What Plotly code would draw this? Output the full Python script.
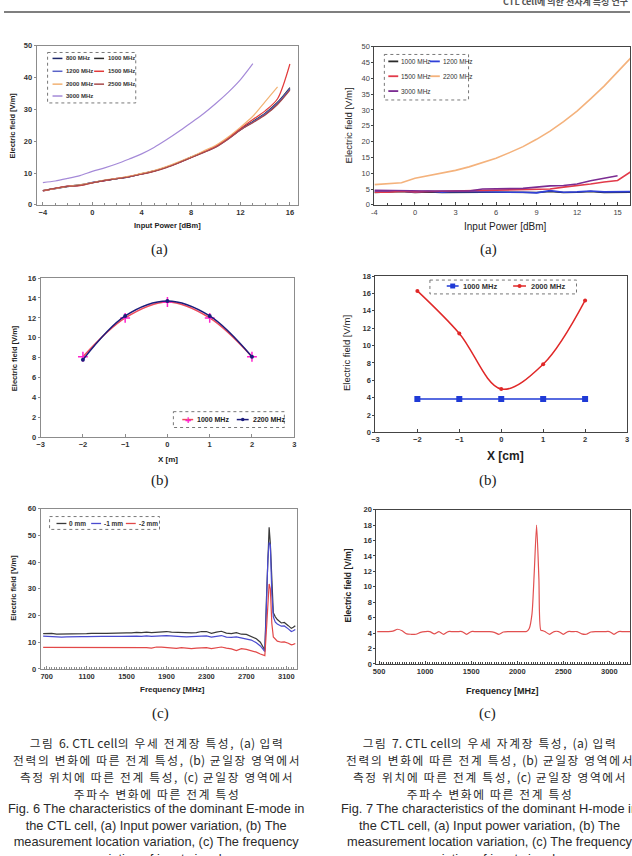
import re
import plotly.graph_objects as go

W, H = 632, 856

# ---------------- Fig.6 (a): E-mode, input power variation ----------------
power_e = [-4, -3, -2, -1, 0, 1, 2, 3, 4, 5, 6, 7, 8, 9, 10, 11, 12, 13, 14, 15, 16]
ea_800 = [4.4, 5.1, 5.7, 6.2, 7.0, 7.6, 8.2, 8.8, 9.7, 10.6, 11.8, 13.3, 14.9, 16.5, 18.3, 20.8, 23.6, 26.0, 28.4, 31.7, 36.3]
ea_1000 = [4.5, 5.2, 5.8, 6.3, 7.0, 7.7, 8.2, 8.9, 9.8, 10.7, 11.9, 13.3, 15.0, 16.6, 18.3, 20.9, 23.8, 26.2, 28.8, 32.2, 36.8]
ea_1200 = [4.5, 5.1, 5.9, 6.2, 7.1, 7.6, 8.3, 8.8, 9.7, 10.6, 11.8, 13.2, 14.9, 16.5, 18.2, 20.7, 23.6, 26.0, 28.6, 32.0, 36.5]
ea_1500 = [4.4, 5.2, 5.9, 6.0, 6.9, 7.6, 8.3, 8.9, 9.7, 10.6, 11.8, 13.2, 14.9, 16.6, 18.4, 21.0, 24.0, 26.8, 29.5, 33.3, 44.2]
ea_2000 = [4.5, 5.1, 5.8, 6.3, 7.0, 7.8, 8.3, 9.0, 9.9, 10.8, 12.0, 13.5, 15.1, 16.9, 18.7, 21.3, 24.4, 27.8, 32.4, 37.0]
ea_2500 = [4.5, 5.2, 5.8, 6.1, 6.9, 7.7, 8.2, 8.8, 9.6, 10.5, 11.7, 13.2, 14.8, 16.4, 18.1, 20.6, 23.5, 25.8, 28.2, 31.5, 36.0]
ea_3000 = [7.0, 7.5, 8.3, 9.2, 10.5, 11.6, 12.9, 14.4, 16.0, 18.0, 20.4, 23.0, 25.8, 28.6, 31.8, 35.3, 39.3, 44.3]
ea_names = ["800 MHz", "1000 MHz", "1200 MHz", "1500 MHz", "2000 MHz", "2500 MHz", "3000 MHz"]
ea_ticks = [-4, 0, 4, 8, 12, 16]

# ---------------- Fig.7 (a): H-mode, input power variation ----------------
power_h = [-4, -2, -1, 0, 1, 2, 3, 4, 5, 6, 7, 8, 9, 10, 11, 12, 13, 14, 15, 16]
ha_1000 = [3.9, 4.0, 4.2, 3.9, 4.1, 3.9, 4.0, 3.9, 4.0, 4.0, 3.9, 4.0, 3.9, 4.2, 3.9, 4.0, 4.2, 3.9, 4.0, 4.0]
ha_1200 = [4.3, 4.2, 4.4, 4.0, 4.3, 4.0, 4.2, 4.1, 4.0, 4.1, 4.0, 4.0, 3.8, 4.5, 4.0, 4.1, 4.4, 4.1, 4.2, 4.2]
ha_1500 = [4.0, 4.0, 4.3, 4.1, 4.2, 4.3, 4.3, 4.4, 4.6, 4.6, 4.8, 4.9, 5.1, 5.0, 5.6, 6.0, 6.6, 7.2, 7.7, 10.5]
ha_2200 = [6.4, 6.6, 7.0, 8.4, 9.2, 10.0, 10.9, 12.0, 13.3, 14.7, 16.5, 18.4, 20.7, 23.3, 26.3, 29.6, 33.5, 37.5, 42.0, 46.5]
ha_3000 = [4.6, 4.5, 4.5, 4.3, 4.4, 4.4, 4.5, 4.4, 5.0, 5.1, 5.0, 5.2, 5.6, 6.0, 6.1, 6.6, 7.6, 8.4, 9.2]
ha_names = ["1000 MHz", "1200 MHz", "1500 MHz", "2200 MHz", "3000 MHz"]
ha_ticks = [-4, 0, 3, 6, 9, 12, 15]

# ---------------- Fig.6 (b): E-mode, location ----------------
x_m = [-2, -1, 0, 1, 2]
eb_1000 = [8.1, 12.0, 13.6, 12.0, 8.1]
eb_2200 = [7.8, 12.2, 13.7, 12.2, 8.1]
eb_names = ["1000 MHz", "2200 MHz"]

# ---------------- Fig.7 (b): H-mode, location ----------------
x_cm = [-2, -1, 0, 1, 2]
hb_1000 = [3.85, 3.85, 3.85, 3.85, 3.85]
hb_2000 = [16.3, 11.4, 5.0, 7.85, 15.2]
hb_names = ["1000 MHz", "2000 MHz"]

# ---------------- Fig.6 (c): E-mode, frequency ----------------
freq_e = [665, 700, 750, 800, 850, 900, 950, 1000, 1050, 1100, 1150, 1200, 1250, 1300, 1350,
          1400, 1450, 1500, 1550, 1600, 1650, 1700, 1750, 1800, 1850, 1900, 1950, 2000, 2050,
          2100, 2150, 2200, 2250, 2300, 2350, 2400, 2450, 2500, 2550, 2600, 2650, 2700, 2750,
          2800, 2840, 2870, 2885, 2900, 2915, 2928, 2940, 2955, 2970, 2990, 3010, 3050, 3080,
          3120, 3150, 3170, 3190]
ec_0mm = [13.2, 13.2, 13.3, 13.0, 13.0, 13.2, 13.2, 13.1, 13.2, 13.2, 13.3, 13.2, 13.3, 13.3, 13.4,
          13.4, 13.4, 13.5, 13.5, 13.7, 13.6, 13.8, 13.6, 13.8, 13.8, 14.0, 13.8, 13.7, 13.6,
          13.4, 13.5, 13.6, 14.0, 14.0, 13.3, 13.8, 14.1, 13.4, 13.2, 13.6, 13.0, 12.9, 12.2,
          11.3, 10.0, 8.2, 7.0, 25.0, 45.0, 53.0, 47.0, 30.0, 21.0, 19.5, 18.5, 17.2, 17.4,
          16.2, 15.2, 15.6, 16.2]
ec_1mm = [12.3, 12.2, 12.0, 11.9, 11.9, 12.0, 12.1, 12.0, 12.1, 12.1, 12.2, 12.1, 12.2, 12.2, 12.3,
          12.2, 12.2, 12.3, 12.2, 12.3, 12.2, 12.4, 12.2, 12.4, 12.4, 12.5, 12.3, 12.2, 12.1,
          12.0, 12.1, 12.2, 12.4, 12.4, 11.9, 12.3, 12.5, 11.9, 11.8, 12.0, 11.6, 11.4, 10.8,
          9.8, 8.6, 7.2, 6.5, 22.0, 41.0, 47.3, 46.5, 28.0, 19.5, 17.5, 16.8, 16.0, 16.1,
          15.0, 14.0, 14.3, 14.8]
ec_2mm = [8.1, 8.1, 8.0, 8.0, 8.1, 8.1, 8.1, 8.0, 8.1, 8.2, 8.1, 8.1, 8.2, 8.1, 8.1,
          8.2, 8.1, 8.1, 8.1, 8.0, 8.1, 8.0, 7.8, 8.2, 8.2, 8.1, 8.0, 7.7, 8.0,
          7.7, 7.6, 7.8, 7.9, 8.0, 7.6, 8.0, 8.2, 7.8, 7.5, 6.9, 7.6, 7.3, 6.8,
          6.3, 5.6, 5.2, 5.0, 14.0, 27.0, 31.8, 30.0, 17.0, 12.0, 11.0, 10.4, 10.0, 10.1,
          9.6, 9.0, 9.2, 9.5]
ec_names = ["0 mm", "-1 mm", "-2 mm"]
ec_ticks = [700, 1100, 1500, 1900, 2300, 2700, 3100]

# ---------------- Fig.7 (c): H-mode, frequency ----------------
freq_h = [480, 550, 600, 650, 700, 750, 800, 850, 900, 950, 1000, 1050, 1100, 1150, 1200, 1250,
          1300, 1350, 1400, 1450, 1500, 1550, 1600, 1650, 1700, 1750, 1800, 1850, 1900, 1950,
          2000, 2050, 2100, 2130, 2160, 2185, 2210, 2235, 2255, 2280, 2300, 2350, 2400, 2450,
          2500, 2550, 2600, 2650, 2700, 2750, 2800, 2850, 2900, 2950, 3000, 3050, 3100, 3150,
          3200, 3250]
hc_field = [4.2, 4.2, 4.2, 4.25, 4.5, 4.3, 3.9, 3.85, 3.85, 4.1, 4.2, 4.2, 3.9, 4.2, 3.85, 4.2,
            4.2, 4.2, 4.2, 3.85, 4.2, 4.2, 4.2, 4.2, 4.2, 4.1, 3.85, 4.15, 4.2, 4.2,
            4.2, 4.2, 4.2, 4.6, 6.5, 12.0, 18.0, 11.0, 4.4, 4.3, 4.2, 3.85, 4.2, 4.2,
            3.85, 4.2, 4.2, 4.2, 3.9, 3.85, 4.15, 4.2, 4.2, 4.2, 4.2, 3.85, 4.2, 4.2,
            4.2, 4.2]
hc_ticks = [500, 1000, 1500, 2000, 2500, 3000]

# ---------------- captions ----------------
cap_left_kr = ["그림 6. CTL cell의 우세 전계장 특성, (a) 입력",
               "전력의 변화에 따른 전계 특성, (b) 균일장 영역에서",
               "측정 위치에 따른 전계 특성, (c) 균일장 영역에서",
               "주파수 변화에 따른 전계 특성"]
cap_left_en = ["Fig. 6 The characteristics of the dominant E-mode in",
               "the CTL cell, (a) Input power variation, (b) The",
               "measurement location variation, (c) The frequency",
               "variation of input signal"]
cap_right_kr = ["그림 7. CTL cell의 우세 자계장 특성, (a) 입력",
                "전력의 변화에 따른 전계 특성, (b) 균일장 영역에서",
                "측정 위치에 따른 전계 특성, (c) 균일장 영역에서",
                "주파수 변화에 따른 전계 특성"]
cap_right_en = ["Fig. 7 The characteristics of the dominant H-mode in",
                "the CTL cell, (a) Input power variation, (b) The",
                "measurement location variation, (c) The frequency",
                "variation of input signal"]

# ======================================================================
def px(x):
    return x / W


def py(y):
    return 1 - y / H


SANS = "Liberation Sans, Arial, sans-serif"
KR = "Noto Sans CJK KR, sans-serif"
SERIF = "Liberation Serif, Times New Roman, serif"

fig = go.Figure()
annotations = []
shapes = []


def add_line(n, x, y, color, width=1.3, shape="spline", smoothing=0.8, mode="lines", marker=None):
    fig.add_trace(go.Scatter(
        x=x, y=y, mode=mode, xaxis=f"x{n}" if n > 1 else "x", yaxis=f"y{n}" if n > 1 else "y",
        line=dict(color=color, width=width, shape=shape, smoothing=smoothing),
        marker=marker, showlegend=False, hoverinfo="skip"))


# ---- panel 1 ----
ea_colors = ["#1d2768", "#2b2b2b", "#5a63c8", "#e23a3a", "#f2b273", "#a84a4a", "#a58ad8"]
for vals, col in zip([ea_800, ea_1000, ea_1200, ea_1500, ea_2000, ea_2500, ea_3000], ea_colors):
    add_line(1, power_e[:len(vals)], vals, col, width=1.2)

# ---- panel 2 ----
ha_colors = ["#2a2a2a", "#3040d8", "#e23a4a", "#f4b27c", "#7b2c92"]
pos_h = list(range(len(power_h)))
for vals, col in zip([ha_1000, ha_1200, ha_1500, ha_2200, ha_3000], ha_colors):
    add_line(2, pos_h[:len(vals)], vals, col, width=1.6, shape="linear")

# ---- panel 3 ----
eb_line = ["#ee4a5c", "#1c1c7c"]
add_line(3, x_m, eb_1000, eb_line[0], width=1.5, smoothing=1.0, mode="lines+markers",
         marker=dict(symbol="cross-thin", size=7, line=dict(color="#ff22cc", width=1.5), color="#ff22cc"))
add_line(3, x_m, eb_2200, eb_line[1], width=1.5, smoothing=1.0, mode="lines+markers",
         marker=dict(symbol="circle", size=4, color="#1c1c7c"))

# ---- panel 4 ----
hb_colors = ["#1f3ad6", "#e02828"]
add_line(4, x_cm, hb_1000, hb_colors[0], width=1.5, shape="linear", mode="lines+markers",
         marker=dict(symbol="square", size=6, color=hb_colors[0]))
add_line(4, x_cm, hb_2000, hb_colors[1], width=1.5, smoothing=1.0, mode="lines+markers",
         marker=dict(symbol="circle", size=4, color=hb_colors[1]))

# ---- panel 5 ----
ec_colors = ["#3a3a3a", "#4a4ad0", "#e24848"]
for vals, col in zip([ec_0mm, ec_1mm, ec_2mm], ec_colors):
    add_line(5, freq_e, vals, col, width=1.2, shape="linear")

# ---- panel 6 ----
add_line(6, freq_h, hc_field, "#e25050", width=1.2, smoothing=0.6)

# ======================================================================
tickfont = dict(family=SANS, size=7.5, color="#333333", weight="bold")


def axis_pair(n, xdom, ydom, xrange, yrange, xtickvals, ydtick, linecolor,
              xticktext=None, xminor=None, tf=tickfont):
    xa = dict(domain=[px(xdom[0]), px(xdom[1])], range=xrange, anchor=f"y{n}" if n > 1 else "y",
              showgrid=False, zeroline=False, showline=True, mirror=True, linecolor=linecolor,
              linewidth=1, tickvals=xtickvals, ticks="inside", ticklen=3, tickcolor=linecolor,
              tickfont=tf, fixedrange=True)
    if xticktext is not None:
        xa["ticktext"] = xticktext
    if xminor is not None:
        xa["minor"] = dict(dtick=xminor, ticks="inside", ticklen=2, tickcolor=linecolor)
    ya = dict(domain=[py(ydom[1]), py(ydom[0])], range=yrange, anchor=f"x{n}" if n > 1 else "x",
              showgrid=False, zeroline=False, showline=True, mirror=True, linecolor=linecolor,
              linewidth=1, dtick=ydtick, tick0=0, ticks="outside", ticklen=2, tickcolor=linecolor,
              tickfont=tf, fixedrange=True)
    key = "" if n == 1 else str(n)
    fig.update_layout(**{f"xaxis{key}": xa, f"yaxis{key}": ya})


axis_pair(1, (33, 297), (42, 203), [-4.5, 16.67], [0, 50], ea_ticks, 10, "#8c8c8c", xminor=1)
h_tickpos = [power_h.index(v) for v in ha_ticks]
axis_pair(2, (374, 632), (43, 203), [0, 18.92], [0, 50], h_tickpos, 5, "#444444",
          xticktext=[str(v) for v in ha_ticks], xminor=1,
          tf=dict(family=SANS, size=7.5, color="#444444"))
axis_pair(3, (37, 293), (277, 438), [-3, 3], [0, 16], [-3, -2, -1, 0, 1, 2, 3], 2, "#8c8c8c")
axis_pair(4, (375, 629), (275, 433), [-3, 3], [0, 18], [-3, -2, -1, 0, 1, 2, 3], 2, "#444444")
axis_pair(5, (37, 296), (510, 672), [640, 3209], [0, 60], ec_ticks, 10, "#8c8c8c", xminor=25)
axis_pair(6, (376, 632), (511, 667), [471, 3224], [0, 20], hc_ticks, 2, "#444444", xminor=25)


# ======================================================================
def text(x, y, s, size, family=SANS, color="#222222", angle=0, xanchor="center", weight="normal",
         yanchor="middle"):
    annotations.append(dict(x=px(x), y=py(y), xref="paper", yref="paper", text=s, showarrow=False,
                            xanchor=xanchor, yanchor=yanchor, textangle=angle,
                            font=dict(family=family, size=size, color=color, weight=weight)))


def seg(x0, y0, x1, y1, color, width=1.3, dash="solid"):
    shapes.append(dict(type="line", xref="paper", yref="paper", x0=px(x0), y0=py(y0),
                       x1=px(x1), y1=py(y1), line=dict(color=color, width=width, dash=dash)))


def box(x0, y0, x1, y1):
    shapes.append(dict(type="rect", xref="paper", yref="paper", x0=px(x0), y0=py(y0),
                       x1=px(x1), y1=py(y1), line=dict(color="#555555", width=0.8, dash="dot"),
                       fillcolor="rgba(0,0,0,0)"))


def marker_sq(x, y, color, s=2.5):
    shapes.append(dict(type="rect", xref="paper", yref="paper", x0=px(x - s), y0=py(y - s),
                       x1=px(x + s), y1=py(y + s), line=dict(width=0), fillcolor=color))


def marker_dot(x, y, color, s=2):
    shapes.append(dict(type="circle", xref="paper", yref="paper", x0=px(x - s), y0=py(y - s),
                       x1=px(x + s), y1=py(y + s), line=dict(width=0), fillcolor=color))


# header rule and running head (cut at the top edge, as on the scanned page)
seg(0, 8, 632, 8, "#555555", width=1.5)
text(632, -3, "CTL cell에 의한 전자계 특성 연구", 9, family=KR, color="#555555", xanchor="right", weight="bold")

# ---- axis titles ----
text(9, 123, "Electric field [V/m]", 7.5, angle=-90, weight="bold")
text(165, 224, "Input Power [dBm]", 7.5, weight="bold")
text(348, 123, "Electric field [V/m]", 9.5, angle=-90)
text(506, 225, "Input Power [dBm]", 10)
text(10, 358, "Electric field [V/m]", 7.5, angle=-90, weight="bold")
text(166, 460, "X [m]", 8, weight="bold")
text(346, 353, "Electric field [V/m]", 9.5, angle=-90)
text(506, 457, "X [cm]", 12, weight="bold")
text(10, 590, "Electric field [V/m]", 7.5, angle=-90, weight="bold")
text(170, 693, "Frequency [MHz]", 8, weight="bold")
text(347, 588, "Electric field [V/m]", 8.5, angle=-90, weight="bold")
text(503, 694, "Frequency [MHz]", 9, weight="bold")

# ---- sub-figure labels ----
for (x, y, s) in [(157, 248, "(a)"), (489, 248, "(a)"), (157, 482, "(b)"), (489, 482, "(b)"),
                  (158, 717, "(c)"), (488, 717, "(c)")]:
    text(x, y, s, 15, family=SERIF)

# ---- legends ----
# panel 1
box(44, 49, 133, 100)
ea_pos = [(49, 55), (91, 55), (49, 68), (91, 68), (49, 81), (91, 81), (49, 93)]
for (x, y), name, col in zip(ea_pos, ea_names, ea_colors):
    seg(x, y, x + 10, y, col, width=1.5)
    text(x + 12, y, name, 6, xanchor="left", weight="bold", color="#333333")
# panel 2
box(384, 51, 469, 97)
ha_pos = [(388, 58), (430, 58), (388, 73), (430, 73), (388, 88)]
for (x, y), name, col in zip(ha_pos, ha_names, ha_colors):
    seg(x, y, x + 10, y, col, width=1.8)
    text(x + 11, y, name, 6.5, xanchor="left", color="#333333")
# panel 3
box(171, 412, 283, 428)
seg(180, 420, 191, 420, eb_line[0], width=1.5)
text(185.5, 420, "+", 11, color="#ff22cc", weight="bold")
text(193, 420, eb_names[0], 7, xanchor="left", weight="bold")
seg(235, 420, 247, 420, eb_line[1], width=1.5)
marker_dot(241, 420, eb_line[1], 1.8)
text(249, 420, eb_names[1], 7, xanchor="left", weight="bold")
# panel 4
box(430, 279, 578, 293)
seg(447, 285, 459, 285, hb_colors[0], width=1.5)
marker_sq(453, 285, hb_colors[0], 2.5)
text(461, 285, hb_names[0], 7.5, xanchor="left", weight="bold", color="#333333")
seg(514, 285, 527, 285, hb_colors[1], width=1.5)
marker_dot(520.5, 285, hb_colors[1], 2)
text(530, 285, hb_names[1], 7.5, xanchor="left", weight="bold", color="#333333")
# panel 5
box(46, 518, 157, 531)
for (x, name, col) in zip([53, 88, 123], ec_names, ec_colors):
    seg(x, 525, x + 10, 525, col, width=1.3)
    text(x + 11, 525, name, 6.5, xanchor="left", weight="bold", color="#333333")


# ---- captions: one multi-line text block each ----
def kr_line(s):
    # widen the Hangul runs only; Latin runs keep normal spacing
    parts = re.split(r"([A-Za-z0-9.()]+(?: [A-Za-z0-9.()]+)*)", s)
    out = []
    for p in parts:
        if not p:
            continue
        if re.fullmatch(r"[A-Za-z0-9.() ]+", p):
            out.append(f'<span style="font-size:12.2px;letter-spacing:0.2px">{p}</span>')
        else:
            out.append(f'<span style="font-size:11.7px;letter-spacing:1.7px">{p}</span>')
    return "".join(out)


def en_block(lines):
    return "<br>".join(f'<span style="font-size:12.8px">{l}</span>' for l in lines)


for cx, kr, en in [(153, cap_left_kr, cap_left_en), (490, cap_right_kr, cap_right_en)]:
    # line pitch = 1.3 * outer font size
    text(cx + 1, 736, "<br>".join(kr_line(l) for l in kr), 13.1, family=KR, color="#2a2a2a",
         yanchor="top")
    text(cx, 803, en_block(en), 12.8, family=SANS, color="#2a2a2a", yanchor="top")

fig.update_layout(width=W, height=H, margin=dict(l=0, r=0, t=0, b=0), autosize=False,
                  paper_bgcolor="white", plot_bgcolor="white", showlegend=False,
                  annotations=annotations, shapes=shapes)

fig.write_html("out.html")
